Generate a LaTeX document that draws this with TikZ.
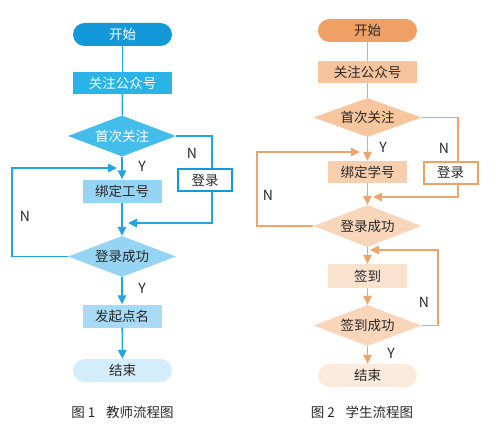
\documentclass[tikz,border=0pt]{standalone}
\usepackage{fontspec}
\setmainfont{Noto Sans CJK SC}
\usetikzlibrary{shapes.geometric,arrows.meta,calc}
\definecolor{bA}{RGB}{19,152,218}
\definecolor{bB}{RGB}{41,179,230}
\definecolor{bC}{RGB}{69,189,235}
\definecolor{bD}{RGB}{150,212,243}
\definecolor{bE}{RGB}{211,237,250}
\definecolor{bL}{RGB}{36,163,224}
\definecolor{oA}{RGB}{239,160,100}
\definecolor{oB}{RGB}{246,196,156}
\definecolor{oC}{RGB}{247,198,158}
\definecolor{oD}{RGB}{248,207,174}
\definecolor{oE}{RGB}{249,214,186}
\definecolor{oF}{RGB}{251,226,207}
\definecolor{oG}{RGB}{252,234,221}
\definecolor{oL}{RGB}{239,164,108}
\definecolor{txt}{RGB}{40,40,40}
\begin{document}
\begin{tikzpicture}[x=1pt,y=-1pt,
  font=\fontsize{13.5}{15}\selectfont,
  base/.style={inner sep=0pt, text=txt},
  term/.style={base, rectangle, rounded corners=11.5pt, minimum width=99pt, minimum height=23pt},
  proc/.style={base, rectangle, minimum width=79pt, minimum height=23pt},
  wide/.style={base, rectangle, minimum width=99pt, minimum height=22pt},
  dec/.style={base, diamond, minimum width=108pt, minimum height=41pt, aspect=2.6},
  login/.style={base, rectangle, fill=white, line width=2pt, minimum width=54pt, minimum height=22pt},
  lab/.style={text=txt, font=\fontsize{14}{16}\selectfont},
  blink/.style={draw=bL, line width=1.3pt},
  olink/.style={draw=oL, line width=1.3pt},
  barr/.style={blink, -{Triangle[length=9pt,width=8.5pt]}},
  oarr/.style={olink, -{Triangle[length=9pt,width=8.5pt]}},
  captext/.style={text=txt, font=\fontsize{13.5}{15}\selectfont}
]
\useasboundingbox (0,0) rectangle (500,428);

% ---------- left: teacher ----------
\node[term, fill=bA, text=white] (sL) at (122.5,34.5) {开始};
\node[wide, fill=bB, text=white] (gL) at (122.5,83) {关注公众号};
\node[dec, fill=bC, text=white] (fL) at (122,136) {首次关注};
\node[login, draw=bA] (dL) at (205,180) {登录};
\node[proc, fill=bD] (bL) at (122,191) {绑定工号};
\node[dec, fill=bD] (cL) at (122,256.5) {登录成功};
\node[proc, fill=bD, fill opacity=0.85, text opacity=1] (qL) at (122,316) {发起点名};
\node[term, fill=bE] (eL) at (122.5,370.5) {结束};

\coordinate (lA) at (212,136);
\coordinate (lB) at (212,223);
\coordinate (lBt) at (128,223);
\coordinate (lC) at (12,256.5);
\coordinate (lD) at (12,168);
\coordinate (lDt) at (117,168);

\draw[blink] (sL) -- (gL);
\draw[blink] (gL) -- (fL);
\draw[barr] (fL) -- (bL);
\draw[blink] (fL.east) -- (lA) -- (lA |- dL.north);
\draw[barr] (lA |- dL.south) -- (lB) -- (lBt);
\draw[barr] (bL) -- (cL);
\draw[barr] (cL.west) -- (lC) -- (lD) -- (lDt);
\draw[barr] (cL) -- (qL);
\draw[barr] (qL) -- (eL);

\node[lab] (nL1) at (192,153) {N};
\node[lab] (yL1) at (142,166) {Y};
\node[lab] (nL2) at (25,216) {N};
\node[lab] (yL2) at (142,288) {Y};
\node[captext] (capL) at (122.5,412) {图 1\hspace{0.8em}教师流程图};

% ---------- right: student ----------
\node[term, fill=oA] (sR) at (367.5,30.5) {开始};
\node[wide, fill=oB] (gR) at (367.5,72) {关注公众号};
\node[dec, fill=oC, minimum height=39pt] (fR) at (367.5,117.5) {首次关注};
\node[login, draw=oA] (dR) at (450.5,172.5) {登录};
\node[proc, fill=oD, minimum height=22pt] (bR) at (367.5,172) {绑定学号};
\node[dec, fill=oE, minimum height=42pt] (cR) at (367.5,226) {登录成功};
\node[proc, fill=oF, minimum height=24pt] (qR) at (367.5,276) {签到};
\node[dec, fill=oE] (kR) at (367.5,325.5) {签到成功};
\node[term, fill=oG] (eR) at (367.5,375.5) {结束};

\coordinate (rA) at (458,117.5);
\coordinate (rB) at (458,197);
\coordinate (rBt) at (373,197);
\coordinate (rC) at (257,226);
\coordinate (rD) at (257,152);
\coordinate (rDt) at (360,152);
\coordinate (rE) at (438,325.5);
\coordinate (rF) at (438,250);
\coordinate (rFt) at (370,250);

\draw[olink] (sR) -- (gR);
\draw[olink] (gR) -- (fR);
\draw[oarr] (fR) -- (bR);
\draw[olink] (fR.east) -- (rA) -- (rA |- dR.north);
\draw[oarr] (rA |- dR.south) -- (rB) -- (rBt);
\draw[oarr] (bR) -- (cR);
\draw[oarr] (cR.west) -- (rC) -- (rD) -- (rDt);
\draw[oarr] (cR) -- (qR);
\draw[oarr] (qR) -- (kR);
\draw[oarr] (kR.east) -- (rE) -- (rF) -- (rFt);
\draw[oarr] (kR) -- (eR);

\node[lab] (nR1) at (444,148) {N};
\node[lab] (yR1) at (383,147) {Y};
\node[lab] (nR2) at (268,195) {N};
\node[lab] (nR3) at (424,302) {N};
\node[lab] (yR2) at (391,353) {Y};
\node[captext] (capR) at (362,412) {图 2\hspace{0.8em}学生流程图};
\end{tikzpicture}
\end{document}
